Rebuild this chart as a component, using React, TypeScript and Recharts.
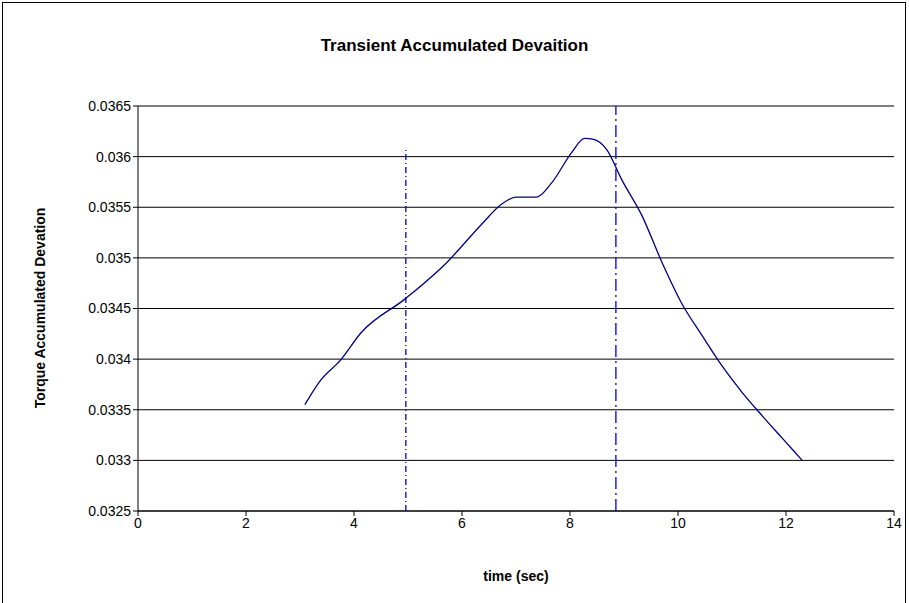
import React from 'react';
import { ComposedChart, Line, XAxis, YAxis, CartesianGrid, ReferenceLine } from 'recharts';

const timeSec = [3.09, 3.38, 3.75, 4.13, 4.96, 5.71, 6.36, 6.73, 7.0, 7.38, 7.66, 8.03, 8.27, 8.44, 8.68, 8.96, 9.33, 9.7, 10.07, 10.45, 10.82, 11.19, 11.56, 11.93, 12.3];
const deviation = [0.03355, 0.03379, 0.03399, 0.03426, 0.0346, 0.03495, 0.03533, 0.03553, 0.0356, 0.0356, 0.03574, 0.03604, 0.03618, 0.03617, 0.03607, 0.03577, 0.03542, 0.03496, 0.03455, 0.03423, 0.03393, 0.03367, 0.03344, 0.03322, 0.033];
const xTicks = [0, 2, 4, 6, 8, 10, 12, 14];
const yTicks = [0.0325, 0.033, 0.0335, 0.034, 0.0345, 0.035, 0.0355, 0.036, 0.0365];
const markers = [
  { x: 4.96, top: 0.03609, dash: '6 3 1 3' },
  { x: 8.85, top: 0.0365, dash: '12 4 2 4' },
];

const data = timeSec.map((t, i) => ({ t, v: deviation[i] }));
const font = 'Liberation Sans, Arial, sans-serif';

export default function App() {
  return (
    <div style={{ position: 'absolute', left: 0, top: 0, width: 909, height: 603, background: '#fff', fontFamily: font }}>
      <div style={{ position: 'absolute', left: 2, top: 2, width: 902, height: 610, border: '1px solid #000' }} />
      <div style={{ position: 'absolute', top: 36, width: 909, textAlign: 'center', fontWeight: 'bold', fontSize: 17 }}>
        Transient Accumulated Devaition
      </div>
      <ComposedChart width={909} height={603} data={data} margin={{ top: 106, right: 15, bottom: 62, left: 68 }}
        style={{ position: 'absolute', left: 0, top: 0 }}>
        <CartesianGrid horizontal vertical={false} stroke="#000" />
        <XAxis type="number" dataKey="t" domain={[0, 14]} ticks={xTicks} stroke="#000" height={30}
          tick={{ fill: '#000', fontSize: 14, fontFamily: font }} tickSize={5} />
        <YAxis type="number" domain={[0.0325, 0.0365]} ticks={yTicks} stroke="#000" width={70}
          tick={{ fill: '#000', fontSize: 14, fontFamily: font }} tickSize={5} />
        {markers.map((m, i) => (
          <ReferenceLine key={i} segment={[{ x: m.x, y: 0.0325 }, { x: m.x, y: m.top }]}
            stroke="#0000cc" strokeWidth={1.3} strokeDasharray={m.dash} />
        ))}
        <Line type="monotone" dataKey="v" stroke="#000080" strokeWidth={1.3} dot={false} isAnimationActive={false} />
      </ComposedChart>
      <div style={{ position: 'absolute', top: 568, left: 138, width: 756, textAlign: 'center', fontWeight: 'bold', fontSize: 14 }}>
        time (sec)
      </div>
      <div style={{ position: 'absolute', left: 40, top: 308, transform: 'translate(-50%, -50%) rotate(-90deg)', whiteSpace: 'nowrap', fontWeight: 'bold', fontSize: 14 }}>
        Torque Accumulated Devation
      </div>
    </div>
  );
}
